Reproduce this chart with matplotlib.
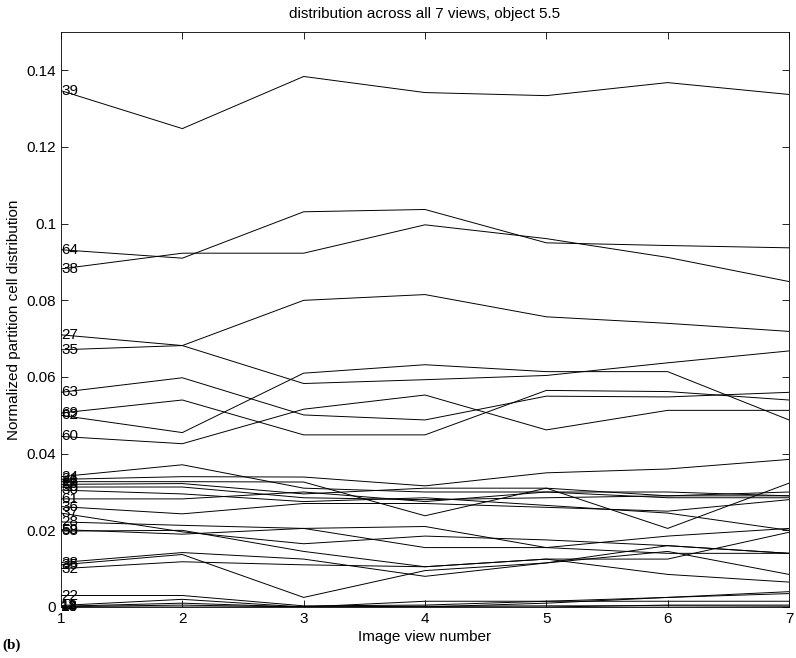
import matplotlib
matplotlib.use("Agg")
import matplotlib.pyplot as plt
import numpy as np

plt.rcParams['font.family'] = ['Liberation Sans', 'DejaVu Sans']

views = [1, 2, 3, 4, 5, 6, 7]

labels = ["39", "64", "38", "27", "35", "63", "69", "62", "60",
          "24", "21", "26", "29", "50", "30", "61", "36", "37", "28", "59", "58",
          "38", "35", "32", "22", "11", "18", "14", "13"]

s39 = [0.1347, 0.1248, 0.1384, 0.1342, 0.1334, 0.1368, 0.1337]
s64 = [0.0932, 0.0910, 0.1031, 0.1037, 0.0950, 0.0943, 0.0937]
s38 = [0.0882, 0.0923, 0.0923, 0.0997, 0.0961, 0.0912, 0.0849]
s27 = [0.0710, 0.0682, 0.0583, 0.0593, 0.0604, 0.0637, 0.0668]
s35 = [0.0671, 0.0682, 0.0800, 0.0815, 0.0757, 0.0740, 0.0719]
s63 = [0.0560, 0.0598, 0.0501, 0.0488, 0.0550, 0.0548, 0.0560]
s69 = [0.0506, 0.0540, 0.0449, 0.0449, 0.0565, 0.0562, 0.0540]
s62 = [0.0500, 0.0455, 0.0610, 0.0632, 0.0614, 0.0614, 0.0488]
s60 = [0.0445, 0.0426, 0.0516, 0.0553, 0.0462, 0.0513, 0.0513]
s24 = [0.0340, 0.0371, 0.0310, 0.0300, 0.0300, 0.0300, 0.0290]
s21 = [0.0333, 0.0340, 0.0339, 0.0316, 0.0350, 0.0360, 0.0385]
s26 = [0.0327, 0.0327, 0.0326, 0.0238, 0.0310, 0.0290, 0.0300]
s29 = [0.0320, 0.0322, 0.0295, 0.0310, 0.0310, 0.0205, 0.0323]
s50 = [0.0313, 0.0313, 0.0285, 0.0280, 0.0285, 0.0290, 0.0290]
s30 = [0.0305, 0.0295, 0.0275, 0.0285, 0.0265, 0.0245, 0.0200]
s61 = [0.0282, 0.0282, 0.0300, 0.0275, 0.0300, 0.0285, 0.0285]
s36 = [0.0262, 0.0243, 0.0270, 0.0270, 0.0260, 0.0250, 0.0280]
s37 = [0.0245, 0.0196, 0.0165, 0.0185, 0.0175, 0.0160, 0.0140]
s28 = [0.0222, 0.0213, 0.0205, 0.0210, 0.0155, 0.0140, 0.0140]
s59 = [0.0202, 0.0190, 0.0205, 0.0155, 0.0155, 0.0185, 0.0205]
s58 = [0.0198, 0.0200, 0.0145, 0.0105, 0.0125, 0.0125, 0.0195]
s38b = [0.0116, 0.0142, 0.0125, 0.0080, 0.0115, 0.0160, 0.0140]
s35b = [0.0110, 0.0137, 0.0025, 0.0095, 0.0115, 0.0145, 0.0085]
s32 = [0.0100, 0.0118, 0.0110, 0.0105, 0.0125, 0.0085, 0.0065]
s22 = [0.0030, 0.0030, 0.0003, 0.0005, 0.0015, 0.0025, 0.0040]
s11 = [0.0004, 0.0020, 0.0000, 0.0015, 0.0015, 0.0015, 0.0015]
s18 = [0.0002, 0.0010, 0.0000, 0.0000, 0.0010, 0.0025, 0.0035]
s14 = [0.0000, 0.0000, 0.0000, 0.0000, 0.0000, 0.0005, 0.0005]
s13 = [0.0001, 0.0005, 0.0000, 0.0002, 0.0003, 0.0003, 0.0002]

series = [s39, s64, s38, s27, s35, s63, s69, s62, s60,
          s24, s21, s26, s29, s50, s30, s61, s36, s37, s28, s59, s58,
          s38b, s35b, s32, s22, s11, s18, s14, s13]

yticks = [0, 0.02, 0.04, 0.06, 0.08, 0.1, 0.12, 0.14]
ytick_labels = ["0", "0.02", "0.04", "0.06", "0.08", "0.1", "0.12", "0.14"]

fig = plt.figure(figsize=(7.96, 6.58), dpi=100)
ax = fig.add_axes([61/796, 1 - 607/658, (789 - 61)/796, (607 - 32)/658])

for lab, vals in zip(labels, series):
    ax.plot(views, vals, color='black', linewidth=0.7)
    ax.text(views[0], vals[0], lab, fontsize=11, ha='left', va='center', color='black')

ax.set_xlim(1, 7)
ax.set_ylim(0, 0.15)
ax.set_xticks(views)
ax.set_xticklabels([str(v) for v in views])
ax.set_yticks(yticks)
ax.set_yticklabels(ytick_labels)
ax.tick_params(direction='in', top=True, right=True, labelsize=11, length=5, width=0.6)
for sp in ax.spines.values():
    sp.set_linewidth(0.6)

ax.set_title("distribution across all 7 views, object 5.5", fontsize=11, pad=10)
ax.set_xlabel("Image view number", fontsize=11, labelpad=3)
ax.set_ylabel("Normalized partition cell distribution", fontsize=11, labelpad=4)
fig.text(2/796, 1 - 645/658, "(b)", fontsize=11, fontweight='bold',
         family=['Liberation Serif', 'DejaVu Serif'], va='center', ha='left')

fig.savefig("out.png", dpi=100)
